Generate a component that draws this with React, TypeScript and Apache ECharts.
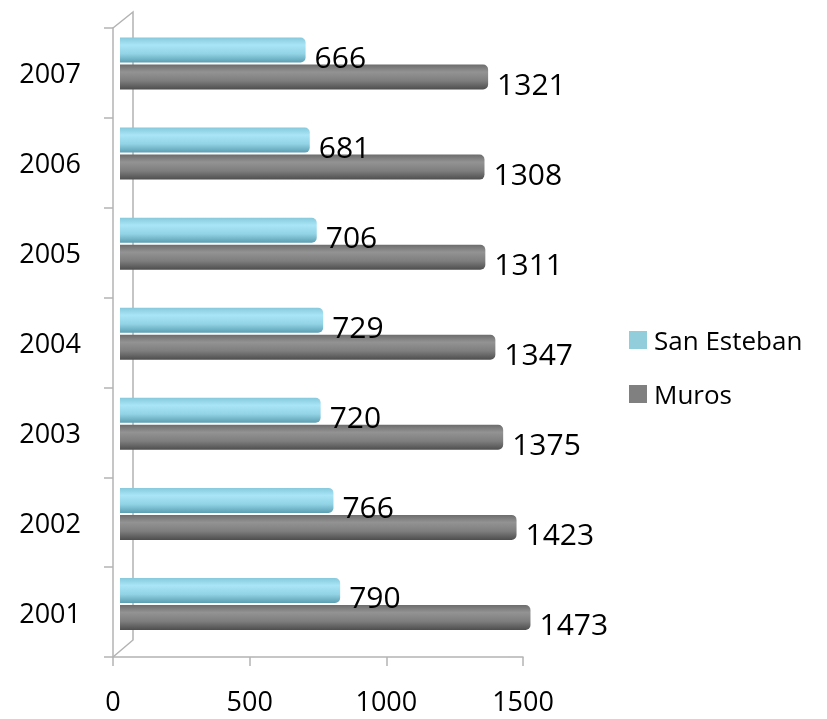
import React, { useEffect, useRef } from "react";
import * as echarts from "echarts";

const years = ["2001", "2002", "2003", "2004", "2005", "2006", "2007"];
const sanEsteban = [790, 766, 720, 729, 706, 681, 666];
const muros = [1473, 1423, 1375, 1347, 1311, 1308, 1321];
const xTicks = [0, 500, 1000, 1500];

const FONT = "'Open Sans', 'Liberation Sans', sans-serif";

export default function App() {
  const ref = useRef<HTMLDivElement>(null);
  useEffect(() => {
    document.body.style.margin = "0";
    const chart = echarts.init(ref.current!, null, { renderer: "svg" });
    const blueGrad = new echarts.graphic.LinearGradient(0, 0, 0, 1, [
      { offset: 0, color: "#86c9dc" },
      { offset: 0.3, color: "#a9e5f6" },
      { offset: 0.65, color: "#92d3e6" },
      { offset: 1, color: "#5d9fb2" },
    ]);
    const grayGrad = new echarts.graphic.LinearGradient(0, 0, 0, 1, [
      { offset: 0, color: "#6c6c6c" },
      { offset: 0.3, color: "#939393" },
      { offset: 0.65, color: "#7e7e7e" },
      { offset: 1, color: "#4e4e4e" },
    ]);
    const labelCfg = {
      show: true,
      position: "right" as const,
      distance: 9,
      offset: [0, 6],
      color: "#000",
      fontSize: 30,
      fontFamily: FONT,
    };
    chart.setOption({
      animation: false,
      textStyle: { fontFamily: FONT },
      grid: [
        { left: 120, top: 18.5, width: 418, height: 630.5 },
        { left: 113, top: 28, width: 410, height: 629 },
      ],
      xAxis: [
        { gridIndex: 0, type: "value", min: 0, max: 1500, show: false },
        {
          gridIndex: 1,
          type: "value",
          min: xTicks[0],
          max: xTicks[xTicks.length - 1],
          interval: 500,
          axisLine: { show: true, lineStyle: { color: "#b3b3b3", width: 1.5 } },
          axisTick: { show: true, length: 9, lineStyle: { color: "#b3b3b3", width: 1.5 } },
          splitLine: { show: false },
          axisLabel: {
            fontSize: 27,
            color: "#000",
            margin: 30,
            fontFamily: FONT,
            formatter: (v: number) => String(v),
          },
        },
      ],
      yAxis: [
        { gridIndex: 0, type: "category", data: years, show: false },
        {
          gridIndex: 1,
          type: "category",
          data: years,
          axisLine: { show: true, lineStyle: { color: "#b3b3b3", width: 1.5 } },
          axisTick: { show: true, length: 9, lineStyle: { color: "#b3b3b3", width: 1.5 } },
          axisLabel: { fontSize: 27, color: "#000", margin: 32, fontFamily: FONT },
        },
      ],
      legend: {
        orient: "vertical",
        left: 629,
        top: 325,
        padding: 0,
        itemWidth: 18,
        itemHeight: 18,
        itemGap: 24,
        icon: "rect",
        data: [
          { name: "San Esteban", itemStyle: { color: "#92cddc" } },
          { name: "Muros", itemStyle: { color: "#808080" } },
        ],
        textStyle: { fontSize: 26, color: "#000", lineHeight: 30, fontFamily: FONT, padding: [0, 0, 0, 2] },
      },
      graphic: [
        {
          type: "polyline",
          shape: { points: [[113, 28], [133, 12], [133, 640], [113, 657]] },
          style: { stroke: "#b3b3b3", lineWidth: 1.5, fill: null },
          silent: true,
        },
      ],
      series: [
        {
          name: "San Esteban",
          type: "bar",
          xAxisIndex: 0,
          yAxisIndex: 0,
          data: sanEsteban,
          barWidth: 25,
          barGap: "8%",
          itemStyle: { color: blueGrad, borderRadius: [0, 5, 5, 0] },
          label: labelCfg,
        },
        {
          name: "Muros",
          type: "bar",
          xAxisIndex: 0,
          yAxisIndex: 0,
          data: muros,
          barWidth: 25,
          barGap: "8%",
          itemStyle: { color: grayGrad, borderRadius: [0, 5, 5, 0] },
          label: labelCfg,
        },
      ],
    });
    return () => chart.dispose();
  }, []);
  return <div ref={ref} style={{ position: "fixed", left: 0, top: 0, width: 827, height: 719 }} />;
}
